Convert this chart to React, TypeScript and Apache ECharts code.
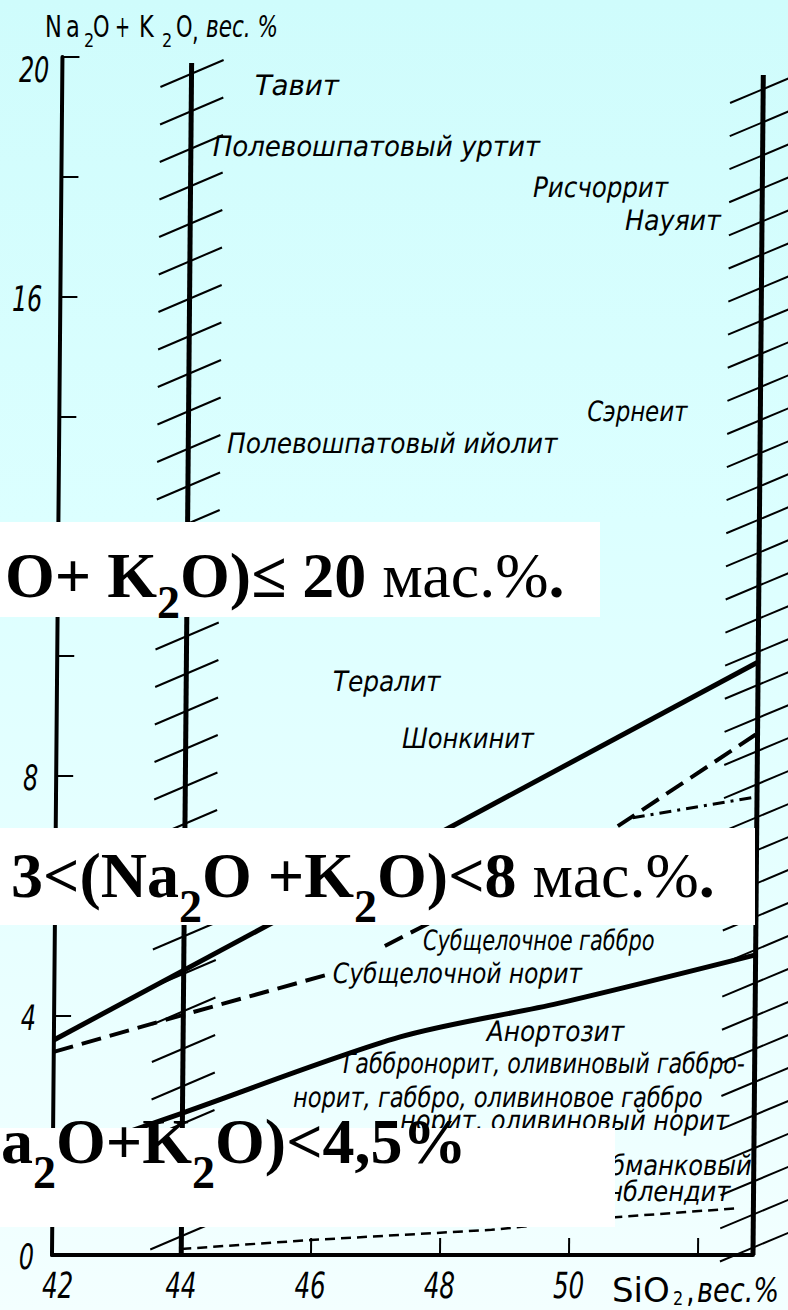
import React, { useEffect, useRef } from "react";
import * as echarts from "echarts";

// ---------- axes ----------
const X_MIN = 42;
const X_MAX = 52.85;
const Y_MIN = 0;
const Y_MAX = 20;
const TICK_STEP = 2;
const xLabelValues = [42, 44, 46, 48, 50];
const yLabelValues = [0, 4, 8, 12, 16, 20];

// ---------- hatched field boundaries (SiO2 position, top of line) ----------
const boundarySiO2 = [44, 52.85];
const boundaryTop = [19.9, 19.7];

// ---------- field boundary curves [SiO2, Na2O+K2O] ----------
const alkalineBoundary = [[42, 3.59], [52.85, 9.9]];
const subalkalineLower = [[42, 3.39], [44, 4.01], [46.26, 4.69]];
const subalkalineUpper = [[47.11, 5.16], [50.66, 7.13], [52.85, 8.71]];
const dashDotBoundary = [[50.93, 7.3], [52.85, 7.65]];
const normalBoundary = [[43.2, 2.07], [44, 2.37], [47.36, 3.64], [49.8, 4.2], [52.85, 5.01]];
const lowAlkaliBoundary = [[44, 0.1], [46, 0.25], [48.8, 0.42], [50.71, 0.63], [52.6, 0.78]];

// ---------- rock names (left end of text) ----------
const rockNames = [
  "Тавит",
  "Полевошпатовый уртит",
  "Рисчоррит",
  "Науяит",
  "Сэрнеит",
  "Полевошпатовый ийолит",
  "Тералит",
  "Шонкинит",
  "Субщелочное габбро",
  "Субщелочной норит",
  "Анортозит",
  "Габбронорит, оливиновый габбро-",
  "норит, габбро, оливиновое габбро",
  "норит, оливиновый норит",
];
const rockSiO2 = [44.98, 44.34, 49.3, 50.73, 50.17, 44.6, 46.27, 47.35, 47.7, 46.31, 48.7, 46.48, 45.71, 47.37];
const rockAlkali = [19.53, 18.51, 17.83, 17.28, 14.09, 13.56, 9.58, 8.63, 5.26, 4.71, 3.74, 3.19, 2.64, 2.25];

// ---------- rock names (right end of text) ----------
const rockNamesEnd = ["Роговообманковый", "горнблендит"];
const rockEndSiO2 = [52.82, 52.49];
const rockEndAlkali = [1.5, 1.07];

// ---------- styles ----------
const SERIF = '"Liberation Serif", "Times New Roman", serif';
const DRAFT = '"DejaVu Sans", sans-serif';
const LABEL_SCALE = 0.86;
// per-label horizontal fit of the drafting lettering (style only)
const rockLabelStretch = [1.15, 1.08, 1.02, 1.05, 0.95, 1.03, 1.03, 1.0, 0.865, 0.97, 1.03, 0.92, 0.936, 1.0];

const hatchStyle = [
  { lw: 5, offset: 10, step: 37.5, dxL: -31, dyL: 14, dxR: 32, dyR: -13 },
  { lw: 5, offset: 14, step: 33.1, dxL: -33, dyL: 14, dxR: 36, dyR: -15 },
];

type Seg = { t: string; bold?: boolean; sub?: boolean };

function layoutRun(segs: Seg[], x0: number, baseline: number, drop: number, size: number, subSize: number) {
  const canvas = document.createElement("canvas");
  const ctx = canvas.getContext("2d") as CanvasRenderingContext2D;
  let x = x0;
  const out: any[] = [];
  segs.forEach((s) => {
    const fs = s.sub ? subSize : size;
    const fw = s.bold ? "bold" : "normal";
    ctx.font = `${fw} ${fs}px ${SERIF}`;
    const w = ctx.measureText(s.t).width;
    const bl = baseline + (s.sub ? drop : 0);
    out.push({
      type: "text",
      x,
      y: bl - 0.3375 * fs,
      z: 20,
      style: {
        text: s.t,
        fontFamily: SERIF,
        fontSize: fs,
        fontWeight: fw,
        fill: "#000",
        align: "left",
        verticalAlign: "middle",
      },
    });
    x += w;
  });
  return out;
}

function piece(t: string, x: number, baseline: number, size: number, scaleX: number, italic = false) {
  return {
    type: "text",
    x,
    y: baseline - 0.346 * size,
    scaleX,
    z: 20,
    style: {
      text: t,
      fontFamily: DRAFT,
      fontSize: size,
      fontStyle: italic ? "italic" : "normal",
      fill: "#000",
      align: "left",
      verticalAlign: "middle",
    },
  };
}

function buildChartOption(): any {
  const lineBase = {
    type: "line",
    symbol: "none",
    showSymbol: false,
    silent: true,
  };
  return {
    animation: false,
    backgroundColor: "transparent",
    grid: { left: 52, top: 57, width: 701, height: 1198, containLabel: false, outerBoundsMode: "none" },
    tooltip: { show: false },
    xAxis: {
      type: "value",
      min: X_MIN,
      max: X_MAX,
      interval: TICK_STEP,
      axisLine: { show: true, onZero: false, lineStyle: { color: "#000", width: 4 } },
      axisTick: { show: true, inside: true, length: 17, lineStyle: { color: "#000", width: 2 } },
      splitLine: { show: false },
      axisLabel: { show: false },
    },
    yAxis: {
      type: "value",
      min: Y_MIN,
      max: Y_MAX,
      interval: TICK_STEP,
      axisLine: { show: true, onZero: false, lineStyle: { color: "#000", width: 4 } },
      axisTick: { show: true, inside: true, length: 17, lineStyle: { color: "#000", width: 2 } },
      splitLine: { show: false },
      axisLabel: { show: false },
    },
    series: [
      {
        type: "custom",
        silent: true,
        z: 3,
        data: boundarySiO2.map((x, i) => [x, boundaryTop[i]]),
        renderItem: (params: any, api: any) => {
          const x = api.value(0);
          const top = api.value(1);
          const pTop = api.coord([x, top]);
          const pBot = api.coord([x, 0]);
          const h = hatchStyle[params.dataIndex];
          const children: any[] = [
            {
              type: "line",
              shape: { x1: pTop[0], y1: pTop[1], x2: pBot[0], y2: pBot[1] },
              style: { stroke: "#000", lineWidth: h.lw },
            },
          ];
          for (let y = pTop[1] + h.offset; y < pBot[1] - 7; y += h.step) {
            children.push({
              type: "line",
              shape: { x1: pTop[0] + h.dxL, y1: y + h.dyL, x2: pTop[0] + h.dxR, y2: y + h.dyR },
              style: { stroke: "#000", lineWidth: 2 },
            });
          }
          return { type: "group", children };
        },
      },
      { ...lineBase, data: alkalineBoundary, z: 4, lineStyle: { color: "#000", width: 5 } },
      { ...lineBase, data: subalkalineLower, z: 4, lineStyle: { color: "#000", width: 4, type: [20, 9] } },
      { ...lineBase, data: subalkalineUpper, z: 4, lineStyle: { color: "#000", width: 4, type: [20, 9] } },
      { ...lineBase, data: dashDotBoundary, z: 4, lineStyle: { color: "#000", width: 3, type: [12, 6, 3, 6] } },
      { ...lineBase, data: normalBoundary, z: 4, smooth: 0.3, lineStyle: { color: "#000", width: 5 } },
      { ...lineBase, data: lowAlkaliBoundary, z: 4, lineStyle: { color: "#000", width: 2.5, type: [10, 6] } },
      // y tick labels
      {
        type: "custom",
        silent: true,
        z: 6,
        data: yLabelValues.map((v) => [X_MIN, v]),
        renderItem: (params: any, api: any) => {
          const v = api.value(1);
          const p = api.coord([api.value(0), v]);
          const atTop = v === Y_MAX;
          return {
            type: "text",
            x: p[0] - (atTop ? 13 : 18),
            y: p[1] + (atTop ? 13 : 2),
            scaleX: 0.68,
            style: {
              text: String(v),
              fontFamily: DRAFT,
              fontStyle: "italic",
              fontSize: 35,
              fill: "#000",
              align: "right",
              verticalAlign: "middle",
            },
          };
        },
      },
      // x tick labels
      {
        type: "custom",
        silent: true,
        z: 6,
        data: xLabelValues.map((v) => [v, Y_MIN]),
        renderItem: (params: any, api: any) => {
          const v = api.value(0);
          const p = api.coord([v, api.value(1)]);
          return {
            type: "text",
            x: p[0] + (v === X_MIN ? 6 : 0),
            y: p[1] + 30,
            scaleX: 0.68,
            style: {
              text: String(v),
              fontFamily: DRAFT,
              fontStyle: "italic",
              fontSize: 36,
              fill: "#000",
              align: "center",
              verticalAlign: "middle",
            },
          };
        },
      },
      // rock names
      {
        type: "custom",
        silent: true,
        z: 6,
        data: rockSiO2.map((x, i) => [x, rockAlkali[i]]),
        renderItem: (params: any, api: any) => {
          const p = api.coord([api.value(0), api.value(1)]);
          return {
            type: "text",
            x: p[0],
            y: p[1],
            scaleX: LABEL_SCALE * rockLabelStretch[params.dataIndex],
            style: {
              text: rockNames[params.dataIndex],
              fontFamily: DRAFT,
              fontStyle: "italic",
              fontSize: 28,
              fill: "#000",
              align: "left",
              verticalAlign: "middle",
            },
          };
        },
      },
      {
        type: "custom",
        silent: true,
        z: 6,
        data: rockEndSiO2.map((x, i) => [x, rockEndAlkali[i]]),
        renderItem: (params: any, api: any) => {
          const p = api.coord([api.value(0), api.value(1)]);
          return {
            type: "text",
            x: p[0],
            y: p[1],
            scaleX: LABEL_SCALE,
            style: {
              text: rockNamesEnd[params.dataIndex],
              fontFamily: DRAFT,
              fontStyle: "italic",
              fontSize: 28,
              fill: "#000",
              align: "right",
              verticalAlign: "middle",
            },
          };
        },
      },
    ],
  };
}

function buildOverlayOption(): any {
  const boxes = [
    { x: 0, y: 522, w: 600, h: 95 },
    { x: 0, y: 828, w: 755, h: 97 },
    { x: 0, y: 1128, w: 615, h: 99 },
  ];
  const elements: any[] = boxes.map((b) => ({
    type: "rect",
    z: 10,
    shape: { x: b.x, y: b.y, width: b.w, height: b.h },
    style: { fill: "#ffffff" },
  }));

  elements.push(
    ...layoutRun(
      [
        { t: "O+ K", bold: true },
        { t: "2", bold: true, sub: true },
        { t: "O)≤ 20 ", bold: true },
        { t: "мас.%" },
        { t: ".", bold: true },
      ],
      5,
      597,
      21,
      64,
      46
    )
  );
  elements.push(
    ...layoutRun(
      [
        { t: "3<(Na", bold: true },
        { t: "2", bold: true, sub: true },
        { t: "O +K", bold: true },
        { t: "2", bold: true, sub: true },
        { t: "O)<8 ", bold: true },
        { t: "мас.%" },
        { t: ".", bold: true },
      ],
      11,
      897,
      25,
      64,
      46
    )
  );
  elements.push(
    ...layoutRun(
      [
        { t: "a", bold: true },
        { t: "2", bold: true, sub: true },
        { t: "O+K", bold: true },
        { t: "2", bold: true, sub: true },
        { t: "O)<4,5%", bold: true },
      ],
      1,
      1163,
      25,
      64,
      46
    )
  );

  // y axis title
  elements.push(
    piece("N", 45, 37, 30, 0.75),
    piece("a", 66, 37, 30, 0.75),
    piece("2", 84, 47, 20, 0.8),
    piece("O", 93, 37, 30, 0.7),
    piece("+", 115, 37, 30, 0.6),
    piece("K", 139, 37, 30, 0.75),
    piece("2", 162, 47, 20, 0.8),
    piece("O", 176, 37, 30, 0.7),
    piece(",", 192, 40, 30, 0.7),
    piece("вес. %", 206, 37, 30, 0.72, true)
  );
  // x axis title
  elements.push(
    piece("SiO", 612, 1302, 34, 1.0),
    piece("2", 673, 1305, 20, 0.8),
    piece(",", 686, 1302, 34, 0.8),
    piece("вес.%", 697, 1302, 34, 0.8, true)
  );

  return {
    animation: false,
    backgroundColor: "transparent",
    graphic: { elements },
  };
}

export default function App() {
  const chartRef = useRef<HTMLDivElement>(null);
  const overlayRef = useRef<HTMLDivElement>(null);

  useEffect(() => {
    const chart = echarts.init(chartRef.current as HTMLDivElement, null, { renderer: "svg" });
    chart.setOption(buildChartOption());
    const overlay = echarts.init(overlayRef.current as HTMLDivElement, null, { renderer: "svg" });
    overlay.setOption(buildOverlayOption());
    return () => {
      chart.dispose();
      overlay.dispose();
    };
  }, []);

  return (
    <div
      style={{
        position: "absolute",
        left: 0,
        top: 0,
        width: 788,
        height: 1310,
        overflow: "hidden",
        background: "linear-gradient(180deg, #cffcfc 0%, #dcffff 40%, #e9ffff 75%, #f3ffff 100%)",
      }}
    >
      <div
        ref={chartRef}
        style={{
          position: "absolute",
          left: 0,
          top: 0,
          width: 788,
          height: 1310,
          transform: "skewX(-0.5deg)",
          transformOrigin: "0px 1255px",
        }}
      />
      <div
        ref={overlayRef}
        style={{ position: "absolute", left: 0, top: 0, width: 788, height: 1310, pointerEvents: "none" }}
      />
    </div>
  );
}
